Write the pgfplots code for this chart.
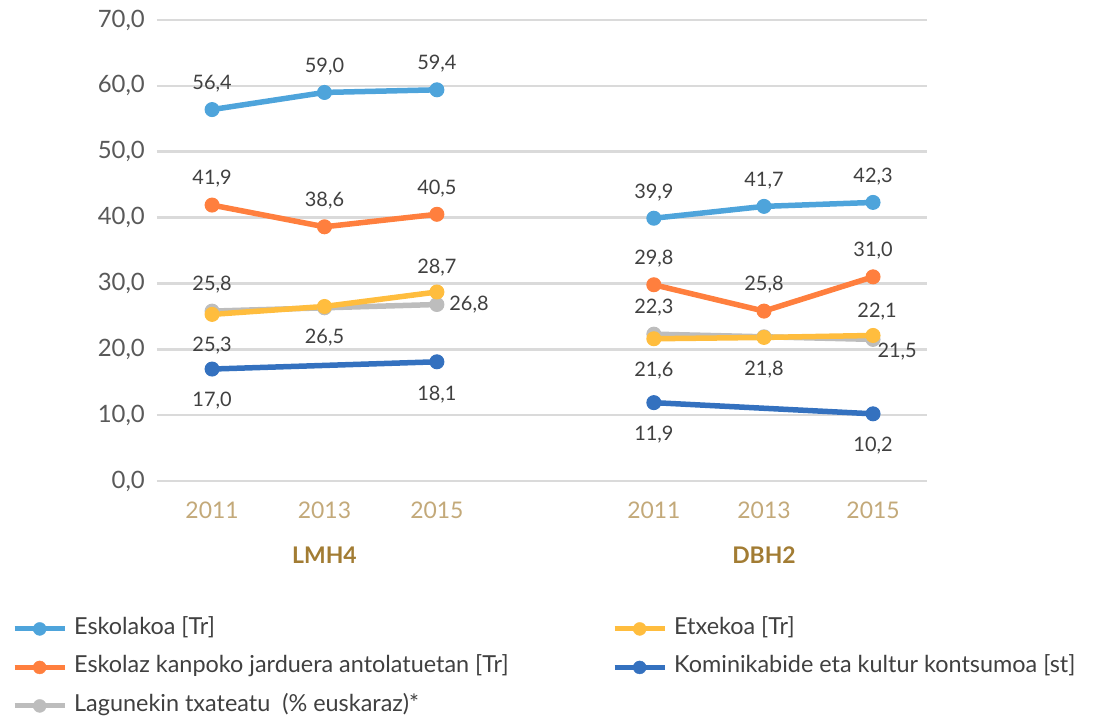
\documentclass[border=0pt]{standalone}
\usepackage{pgfplots}
\pgfplotsset{compat=1.18}
\usepackage{fontspec}
\setmainfont{Lato}

\definecolor{cEsk}{HTML}{4EA4DB}
\definecolor{cKan}{HTML}{FF7F3E}
\definecolor{cLag}{HTML}{BDBDBD}
\definecolor{cEtx}{HTML}{FFBD3E}
\definecolor{cKom}{HTML}{3471BF}
\definecolor{cgrid}{HTML}{DADADA}
\definecolor{ctick}{HTML}{595959}
\definecolor{clbl}{HTML}{404040}
\definecolor{cyear}{HTML}{C3A979}
\definecolor{cgroup}{HTML}{A27C33}

\pgfplotsset{
  ser/.style={color=#1, line width=5.5bp, mark=*, mark size=7bp,
    mark options={solid, line width=1bp}, forget plot},
  lbls/.style={nodes near coords, point meta=explicit symbolic,
    visualization depends on={value \thisrow{anc}\as\anc},
    visualization depends on={value \thisrow{dx}\as\dx},
    visualization depends on={value \thisrow{dy}\as\dy},
    every node near coord/.append style={anchor=\anc, xshift=\dx bp, yshift=\dy bp,
      inner sep=0pt, font=\fontsize{20}{20}\selectfont, text=clbl}},
}

\begin{document}
\begin{tikzpicture}
\path[use as bounding box] (-157bp,-237bp) rectangle (938bp,481bp);
\begin{axis}[
  scale only axis, width=770bp, height=461bp,
  xmin=-0.49, xmax=6.36, ymin=0, ymax=70,
  clip=false,
  axis line style={draw=none},
  major tick length=0pt,
  ymajorgrids, grid style={cgrid, line width=2.5bp},
  ytick={0,10,...,70},
  xtick={0,1,2,3.93,4.91,5.88},
  xticklabels={2011,2013,2015,2011,2013,2015},
  yticklabel style={/pgf/number format/.cd, fixed, fixed zerofill, precision=1,
    use comma, assume math mode=true, /tikz/.cd,
    font=\fontsize{24}{24}\selectfont, text=ctick, anchor=east, inner sep=0pt, xshift=-12bp},
  xticklabel style={font=\fontsize{23}{23}\selectfont, text=cyear, anchor=north,
    inner sep=0pt, yshift=-21bp},
  legend columns=2,
  legend cell align=left,
  legend style={at={(-0.1883,-0.2787)}, anchor=north west, draw=none, fill=none,
    font=\fontsize{23.5}{23.5}\selectfont, text=clbl, inner sep=0pt,
    /tikz/column sep=0pt, row sep=0pt,
    nodes={text height=16bp, text depth=5bp, inner ysep=8.75bp, inner xsep=7bp}},
  legend image code/.code={
    \draw[line width=5bp] (0bp,0bp) -- (50bp,0bp);
    \fill (25bp,0bp) circle (6.5bp);
  },
]
% Eskolakoa
\addplot[ser=cEsk, lbls] table[meta=lbl] {
x y lbl anc dx dy
0 56.4 56,4 south 0 17
1 59.0 59,0 south 0 17
2 59.4 59,4 south 0 17
};
\addplot[ser=cEsk, lbls] table[meta=lbl] {
x y lbl anc dx dy
3.93 39.9 39,9 south 0 17
4.91 41.7 41,7 south 0 17
5.88 42.3 42,3 south 0 17
};
% Eskolaz kanpoko jarduera antolatuetan
\addplot[ser=cKan, lbls] table[meta=lbl] {
x y lbl anc dx dy
0 41.9 41,9 south 0 17
1 38.6 38,6 south 0 17
2 40.5 40,5 south 0 17
};
\addplot[ser=cKan, lbls] table[meta=lbl] {
x y lbl anc dx dy
3.93 29.8 29,8 south 0 17
4.91 25.8 25,8 south 0 17
5.88 31.0 31,0 south 0 17
};
% Lagunekin txateatu
\addplot[ser=cLag, lbls] table[meta=lbl] {
x y lbl anc dx dy
0 25.8 25,8 south 0 17
1 26.3 {} south 0 17
2 26.8 26,8 west 12 0
};
\addplot[ser=cLag, lbls] table[meta=lbl] {
x y lbl anc dx dy
3.93 22.3 22,3 south 0 17
4.91 21.9 {} south 0 17
5.88 21.5 21,5 {north west} 4 -3
};
% Etxekoa
\addplot[ser=cEtx, lbls] table[meta=lbl] {
x y lbl anc dx dy
0 25.3 25,3 north 0 -22
1 26.5 26,5 north 0 -22
2 28.7 28,7 south 0 15
};
\addplot[ser=cEtx, lbls] table[meta=lbl] {
x y lbl anc dx dy
3.93 21.6 21,6 north 0 -23
4.91 21.8 21,8 north 0 -23
5.88 22.1 22,1 south 4 15
};
% Kominikabide eta kultur kontsumoa
\addplot[ser=cKom, lbls] table[meta=lbl] {
x y lbl anc dx dy
0 17.0 17,0 north 0 -23
2 18.1 18,1 north 0 -24
};
\addplot[ser=cKom, lbls] table[meta=lbl] {
x y lbl anc dx dy
3.93 11.9 11,9 north 0 -23
5.88 10.2 10,2 north 0 -23
};

\node[font=\bfseries\fontsize{23}{23}\selectfont, text=cgroup] at (axis cs:1,0) [yshift=-74bp] {LMH4};
\node[font=\bfseries\fontsize{23}{23}\selectfont, text=cgroup] at (axis cs:4.91,0) [yshift=-74bp] {DBH2};

\addlegendimage{cEsk}
\addlegendentry{\makebox[531bp][l]{Eskolakoa [Tr]}}
\addlegendimage{cEtx}
\addlegendentry{Etxekoa [Tr]}
\addlegendimage{cKan}
\addlegendentry{\makebox[531bp][l]{Eskolaz kanpoko jarduera antolatuetan [Tr]}}
\addlegendimage{cKom}
\addlegendentry{Kominikabide eta kultur kontsumoa [st]}
\addlegendimage{cLag}
\addlegendentry{\makebox[531bp][l]{Lagunekin txateatu\ \ (\% euskaraz)*}}
\end{axis}
\end{tikzpicture}
\end{document}
